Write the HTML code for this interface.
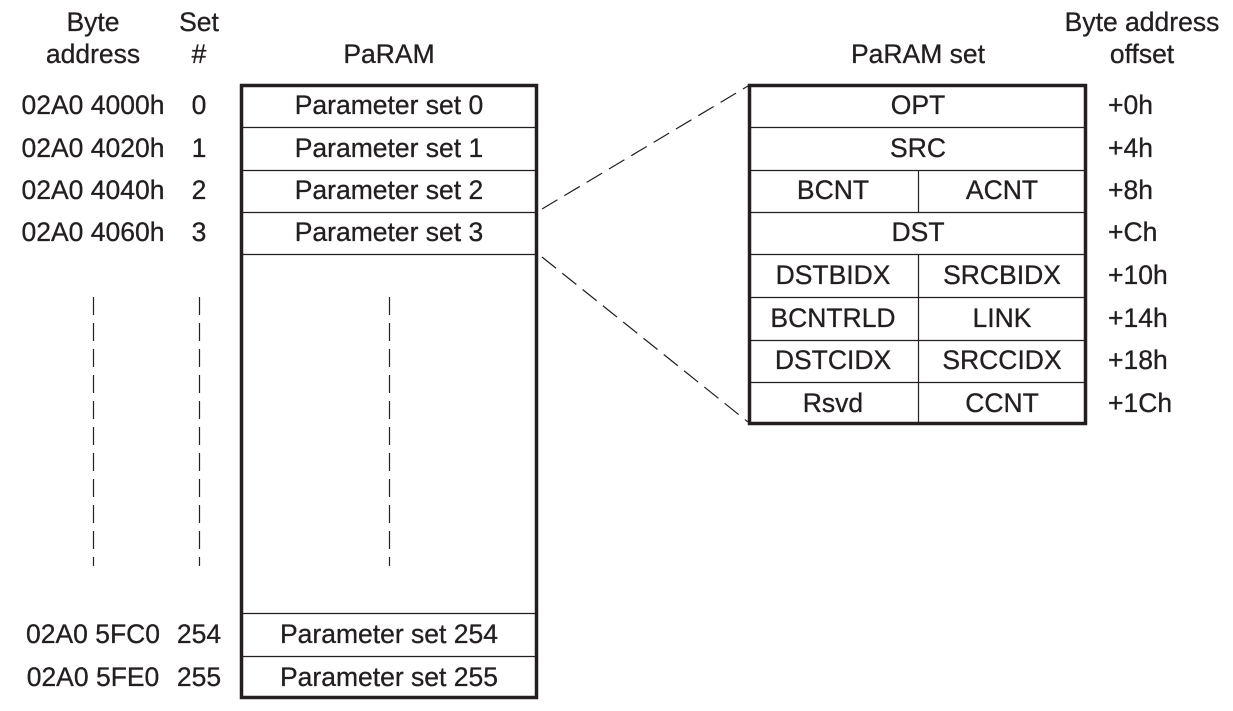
<!DOCTYPE html>
<html><head><style>
html,body{margin:0;padding:0;background:#fff;}
svg{display:block;}
text{font-family:"Liberation Sans",sans-serif;font-size:26.5px;fill:#231f20;stroke:#231f20;stroke-width:0.3px;}
</style></head><body>
<svg width="1233" height="711" viewBox="0 0 1233 711" xmlns="http://www.w3.org/2000/svg">
<g text-anchor="middle">
<text x="93" y="31">Byte</text>
<text x="93" y="63">address</text>
<text x="199" y="31">Set</text>
<text x="199" y="63">#</text>
<text x="389" y="63">PaRAM</text>
<text x="918" y="63">PaRAM set</text>
<text x="1142" y="31">Byte address</text>
<text x="1142" y="63">offset</text>

<text x="93" y="114">02A0 4000h</text>
<text x="93" y="157">02A0 4020h</text>
<text x="93" y="199">02A0 4040h</text>
<text x="93" y="241">02A0 4060h</text>
<text x="199" y="114">0</text>
<text x="199" y="157">1</text>
<text x="199" y="199">2</text>
<text x="199" y="241">3</text>
<text x="93" y="643">02A0 5FC0</text>
<text x="93" y="686">02A0 5FE0</text>
<text x="199" y="643">254</text>
<text x="199" y="686">255</text>

<text x="389" y="114">Parameter set 0</text>
<text x="389" y="157">Parameter set 1</text>
<text x="389" y="199">Parameter set 2</text>
<text x="389" y="241">Parameter set 3</text>
<text x="389" y="643">Parameter set 254</text>
<text x="389" y="686">Parameter set 255</text>

<text x="918" y="114">OPT</text>
<text x="918" y="157">SRC</text>
<text x="833" y="199">BCNT</text>
<text x="1002" y="199">ACNT</text>
<text x="918" y="241">DST</text>
<text x="833" y="284">DSTBIDX</text>
<text x="1002" y="284">SRCBIDX</text>
<text x="833" y="327">BCNTRLD</text>
<text x="1002" y="327">LINK</text>
<text x="833" y="369">DSTCIDX</text>
<text x="1002" y="369">SRCCIDX</text>
<text x="833" y="412">Rsvd</text>
<text x="1002" y="412">CCNT</text>
</g>
<g>
<text x="1108" y="114">+0h</text>
<text x="1108" y="157">+4h</text>
<text x="1108" y="199">+8h</text>
<text x="1108" y="241">+Ch</text>
<text x="1108" y="284">+10h</text>
<text x="1108" y="327">+14h</text>
<text x="1108" y="369">+18h</text>
<text x="1108" y="412">+1Ch</text>
</g>
<g stroke="#231f20" fill="none">
<rect x="241.5" y="85.5" width="295" height="612" stroke-width="3.5"/>
<path d="M242 127.5H536M242 170.5H536M242 212.5H536M242 254.5H536M242 613.5H536M242 656.5H536" stroke-width="1.2"/>
<rect x="749.5" y="85.5" width="336" height="338" stroke-width="3.5"/>
<path d="M750 127.5H1085M750 170.5H1085M750 212.5H1085M750 254.5H1085M750 297.5H1085M750 340.5H1085M750 382.5H1085M918.5 170V212M918.5 254V423" stroke-width="1.2"/>
<path d="M93.5 297V566M199.5 297V566M389.5 297V566" stroke-width="1.2" stroke-dasharray="18,8"/>
<path d="M542 209L748 86M542 257L748 422" stroke-width="1.2" stroke-dasharray="18,8"/>
</g>
</svg>
</body></html>
